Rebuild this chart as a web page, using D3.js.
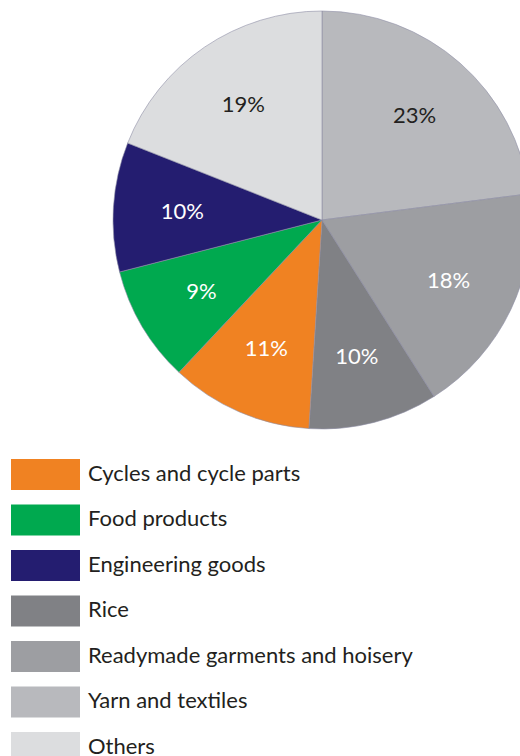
<!DOCTYPE html>
<html>
<head>
<meta charset="utf-8">
<script src="https://cdn.jsdelivr.net/npm/d3@7"></script>
<style>
  body { margin: 0; background: #fff; }
  text { font-family: "Lato", "Open Sans", sans-serif; }
</style>
</head>
<body>
<script>
// data, clockwise from 12 o'clock
var categories = ["Yarn and textiles", "Readymade garments and hoisery", "Rice",
    "Cycles and cycle parts", "Food products", "Engineering goods", "Others"];
var shares = [23, 18, 10, 11, 9, 10, 19];
var sliceColors = ["#b8b9bd", "#9d9ea2", "#808185", "#f08222", "#00a94f", "#241d70", "#dcdddf"];
var labelColors = ["#231f20", "#ffffff", "#ffffff", "#ffffff", "#ffffff", "#ffffff", "#231f20"];
// legend order
var legendOrder = ["Cycles and cycle parts", "Food products", "Engineering goods", "Rice",
    "Readymade garments and hoisery", "Yarn and textiles", "Others"];

var svgWidth = 520;
var svgHeight = 756;
var cx = 322, cy = 220, radius = 209;

var data = categories.map(function (c, i) {
    return { name: c, value: shares[i], color: sliceColors[i], label: labelColors[i] };
});

var svg = d3.select("body").append("svg")
    .attr("width", svgWidth)
    .attr("height", svgHeight);

var pieGroup = svg.append("g")
    .attr("transform", `translate(${cx}, ${cy})`);

var pie = d3.pie().sort(null).value(d => d.value);
var arc = d3.arc().innerRadius(0).outerRadius(radius);
var labelArc = d3.arc().innerRadius(140).outerRadius(140);

var arcs = pie(data);

pieGroup.selectAll("path")
    .data(arcs)
    .enter()
    .append("path")
    .attr("d", arc)
    .attr("fill", d => d.data.color)
    .attr("stroke", "#8e8fa6")
    .attr("stroke-width", 0.6);

pieGroup.selectAll("text.pct")
    .data(arcs)
    .enter()
    .append("text")
    .attr("class", "pct")
    .attr("transform", d => `translate(${labelArc.centroid(d)})`)
    .attr("text-anchor", "middle")
    .attr("dy", "0.36em")
    .attr("font-size", 22)
    .attr("fill", d => d.data.label)
    .text(d => d.data.value + "%");

// legend
var legend = svg.append("g");
var byName = {};
data.forEach(d => byName[d.name] = d);

var rows = legend.selectAll("g")
    .data(legendOrder)
    .enter()
    .append("g")
    .attr("transform", (d, i) => `translate(11, ${459 + i * 45.5})`);

rows.append("rect")
    .attr("width", 69)
    .attr("height", 31)
    .attr("fill", d => byName[d].color);

rows.append("text")
    .attr("x", 77)
    .attr("y", 14)
    .attr("dy", "0.36em")
    .attr("font-size", 22)
    .attr("fill", "#231f20")
    .text(d => d);
</script>
</body>
</html>
